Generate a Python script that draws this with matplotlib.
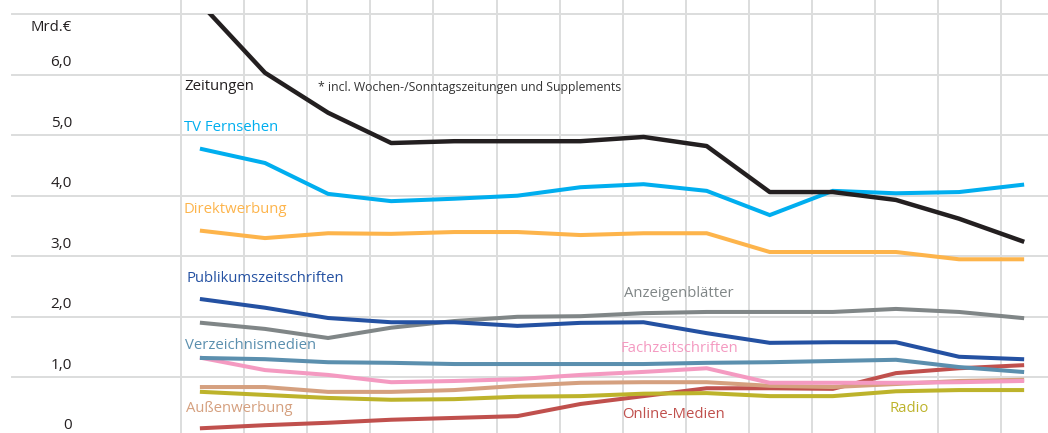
import numpy as np
import matplotlib
matplotlib.use("Agg")
import matplotlib.pyplot as plt
from matplotlib.patches import Rectangle

plt.rcParams['font.family'] = ['Open Sans', 'DejaVu Sans']

# Jahre als Positionen 0..13
jahre = np.arange(14)

zeitungen = [7.15, 6.03, 5.37, 4.87, 4.90, 4.90, 4.90, 4.97, 4.82, 4.06, 4.06, 3.93, 3.62, 3.25]
tv = [4.77, 4.54, 4.03, 3.91, 3.95, 4.00, 4.14, 4.19, 4.08, 3.68, 4.08, 4.04, 4.06, 4.18]
direktwerbung = [3.42, 3.30, 3.38, 3.37, 3.40, 3.40, 3.35, 3.38, 3.38, 3.07, 3.07, 3.07, 2.95, 2.95]
publikum = [2.29, 2.15, 1.98, 1.91, 1.91, 1.85, 1.90, 1.91, 1.73, 1.57, 1.58, 1.58, 1.34, 1.30]
anzeigenblaetter = [1.90, 1.80, 1.65, 1.82, 1.93, 2.00, 2.01, 2.06, 2.08, 2.08, 2.08, 2.13, 2.08, 1.98]
verzeichnis = [1.32, 1.30, 1.25, 1.24, 1.22, 1.22, 1.22, 1.22, 1.24, 1.25, 1.27, 1.29, 1.17, 1.09]
fach = [1.32, 1.12, 1.04, 0.92, 0.94, 0.97, 1.04, 1.09, 1.15, 0.91, 0.91, 0.91, 0.92, 0.94]
aussen = [0.84, 0.84, 0.76, 0.76, 0.79, 0.86, 0.91, 0.92, 0.92, 0.86, 0.84, 0.89, 0.94, 0.96]
radio = [0.76, 0.71, 0.66, 0.63, 0.64, 0.68, 0.69, 0.73, 0.74, 0.69, 0.69, 0.77, 0.79, 0.79]
online = [0.16, 0.21, 0.25, 0.30, 0.33, 0.36, 0.56, 0.69, 0.82, 0.82, 0.81, 1.07, 1.15, 1.20]

y_ticks = [0, 1, 2, 3, 4, 5, 6]
y_labels = ['0', '1,0', '2,0', '3,0', '4,0', '5,0', '6,0']

fig = plt.figure(figsize=(10.48, 4.33), dpi=100)
ax = fig.add_axes([0, 0, 1, 1])
ax.set_xlim(-3.20, 13.41)
ax.set_ylim(0.081, 7.232)
ax.axis('off')

grid_c = '#dcdddd'
for g in range(1, 8):
    ax.plot([-3.01, 13.5], [g, g], color=grid_c, lw=1.4, zorder=0)
for g in np.arange(14) - 0.33:
    ax.axvline(g, color=grid_c, lw=1.4, zorder=0)

serien = [
    (online, '#c0504d'),
    (radio, '#bdb32b'),
    (aussen, '#d5a07f'),
    (fach, '#f49ac1'),
    (verzeichnis, '#5b8fae'),
    (anzeigenblaetter, '#808687'),
    (publikum, '#2451a2'),
    (direktwerbung, '#fdb44b'),
    (tv, '#00aeef'),
]
for werte, farbe in serien:
    ax.plot(jahre, werte, color=farbe, lw=2.9, solid_joinstyle='miter', zorder=2)

# Zeitungen oben an der 7er-Linie abgeschnitten
ln, = ax.plot(jahre, zeitungen, color='#231f20', lw=3.2, zorder=3)
ln.set_clip_path(Rectangle((-4, 0), 20, 7.0, transform=ax.transData))

fs = 10.7
ax.text(-0.285, 5.80, 'Zeitungen', color='#231f20', fontsize=fs, va='center')
ax.text(1.84, 5.78, '* incl. Wochen-/Sonntagszeitungen und Supplements', color='#333333',
        fontsize=8.8, va='center')
ax.text(-0.285, 5.13, 'TV Fernsehen', color='#00aeef', fontsize=fs, va='center')
ax.text(-0.285, 3.78, 'Direktwerbung', color='#fdb44b', fontsize=fs, va='center')
ax.text(-0.25, 2.64, 'Publikumszeitschriften', color='#2451a2', fontsize=fs, va='center')
ax.text(6.69, 2.38, 'Anzeigenblätter', color='#808687', fontsize=fs, va='center')
ax.text(-0.27, 1.53, 'Verzeichnismedien', color='#5b8fae', fontsize=fs, va='center')
ax.text(6.64, 1.47, 'Fachzeitschriften', color='#f49ac1', fontsize=fs, va='center')
ax.text(-0.25, 0.48, 'Außenwerbung', color='#d5a07f', fontsize=fs, va='center')
ax.text(6.66, 0.39, 'Online-Medien', color='#c0504d', fontsize=fs, va='center')
ax.text(10.89, 0.48, 'Radio', color='#bdb32b', fontsize=fs, va='center')

for t, lab in zip(y_ticks, y_labels):
    ax.text(-2.06, t + 0.2, lab, color='#231f20', fontsize=11, ha='right', va='center')
ax.text(-2.06, 6.77, 'Mrd.€', color='#231f20', fontsize=fs, ha='right', va='center')

fig.savefig('out.png', dpi=100)
